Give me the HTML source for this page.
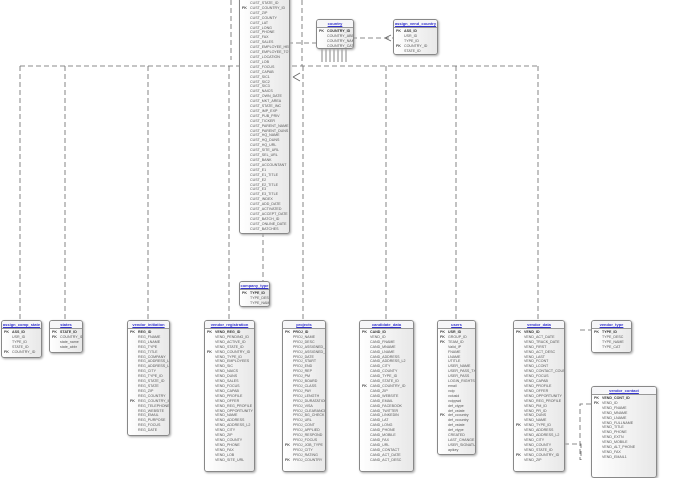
<!DOCTYPE html>
<html><head><meta charset="utf-8"><style>
body{margin:0;width:700px;height:460px;overflow:hidden;background:#fff;position:relative;font-family:"Liberation Sans",sans-serif}
svg{position:absolute;left:0;top:0}
.t{position:absolute;border:1px solid #888;border-radius:3px;background:linear-gradient(90deg,#fff,#e8e8e8);box-shadow:1px 1px 2px #aaa;font-size:3.6px;color:#555;overflow:hidden}
.h{height:7px;border-bottom:1px solid #999;text-align:center;color:#33c;font-weight:bold;line-height:7px;font-size:4px;text-decoration:underline;background:#f6f6f8}
.k{position:absolute;left:2px;top:9px;line-height:4.9px;font-weight:bold;color:#444}
.n{padding-left:10px;line-height:4.9px;padding-top:1px;white-space:nowrap}
.n b{color:#333}
</style></head><body>
<svg width="700" height="460" stroke="#666" fill="none" stroke-width="0.8">
<g stroke-dasharray="5,3">
<path d="M20 66H540"/>
<path d="M20 66V320M65 66V320M148 66V320M229 66V320M303 66V320M386 66V320M456 66V320M538 66V320"/>
<path d="M231 0V60M302 0V66M263 232V281"/>
<path d="M288 43H316M352 38H393M580 330H591M564 444H581V460M591 404H580V460"/>
</g>
<path d="M293 77L300 73M293 77L300 81M286 43h4M352 38h3M385 38l6 -3M385 38l6 3"/>
<path d="M322 48V62M326 48V62M330 48V62M334 48V62M338 48V62M342 48V62M346 48V62"/>
</svg>

<div class="t" style="left:239px;top:-9px;width:49px;height:241px"><div class="h">customer</div>
<div class="k"><br>FK</div>
<div class="n">CUST_STATE_ID<br>CUST_COUNTRY_ID<br>CUST_ZIP<br>CUST_COUNTY<br>CUST_LAT<br>CUST_LONG<br>CUST_PHONE<br>CUST_FAX<br>CUST_SALES<br>CUST_EMPLOYEE_HERE<br>CUST_EMPLOYEE_TOTAL<br>CUST_LOCATION<br>CUST_LOB<br>CUST_FOCUS<br>CUST_CAPAB<br>CUST_SIC1<br>CUST_SIC2<br>CUST_SIC3<br>CUST_NAICS<br>CUST_OWN_DATE<br>CUST_MKT_AREA<br>CUST_STATE_INC<br>CUST_IMP_EXP<br>CUST_PUB_PRIV<br>CUST_TICKER<br>CUST_PARENT_NAME<br>CUST_PARENT_DUNS<br>CUST_HQ_NAME<br>CUST_HQ_DUNS<br>CUST_HQ_URL<br>CUST_SITE_URL<br>CUST_SEL_URL<br>CUST_BANK<br>CUST_ACCOUNTANT<br>CUST_E1<br>CUST_E1_TITLE<br>CUST_E2<br>CUST_E2_TITLE<br>CUST_E3<br>CUST_E3_TITLE<br>CUST_INDEX<br>CUST_ADD_DATE<br>CUST_ACTIVATED<br>CUST_ACCEPT_DATE<br>CUST_BATCH_ID<br>CUST_ONLINE_DATE<br>CUST_BATCHES</div></div>

<div class="t" style="left:316px;top:19px;width:36px;height:28px"><div class="h">country</div><div class="k">PK</div>
<div class="n"><b>COUNTRY_ID</b><br>COUNTRY_ABBR<br>COUNTRY_NAME<br>COUNTRY_CAT</div></div>

<div class="t" style="left:393px;top:19px;width:43px;height:34px"><div class="h">assign_vend_country</div><div class="k">PK<br><br><br>FK</div>
<div class="n"><b>ASS_ID</b><br>USR_ID<br>TYPE_ID<br>COUNTRY_ID<br>STATE_ID</div></div>

<div class="t" style="left:239px;top:281px;width:29px;height:24px"><div class="h">company_type</div><div class="k">PK</div>
<div class="n"><b>TYPE_ID</b><br>TYPE_DESC<br>TYPE_NAME</div></div>

<div class="t" style="left:1px;top:320px;width:39px;height:36px"><div class="h">assign_comp_state</div><div class="k">PK<br><br><br><br>FK</div>
<div class="n"><b>ASS_ID</b><br>USR_ID<br>TYPE_ID<br>STATE_ID<br>COUNTRY_ID</div></div>

<div class="t" style="left:49px;top:320px;width:32px;height:31px"><div class="h">states</div><div class="k">PK<br>FK</div>
<div class="n"><b>STATE_ID</b><br>COUNTRY_ID<br>state_name<br>state_abbr</div></div>

<div class="t" style="left:127px;top:320px;width:41px;height:114px"><div class="h">vendor_initiation</div><div class="k">PK<br><br><br><br><br><br><br><br><br><br><br><br><br><br>FK</div>
<div class="n"><b>REG_ID</b><br>REG_FNAME<br>REG_LNAME<br>REG_TYPE<br>REG_TITLE<br>REG_COMPANY<br>REG_ADDRESS_L1<br>REG_ADDRESS_L2<br>REG_CITY<br>REG_TYPE_ID<br>REG_STATE_ID<br>REG_STATE<br>REG_ZIP<br>REG_COUNTRY<br>REG_COUNTRY_ID<br>REG_TELEPHONE<br>REG_WEBSITE<br>REG_EMAIL<br>REG_PURPOSE<br>REG_FOCUS<br>REG_DATE</div></div>

<div class="t" style="left:204px;top:320px;width:49px;height:150px"><div class="h">vendor_registration</div><div class="k">PK<br><br><br><br>FK</div>
<div class="n"><b>VEND_REG_ID</b><br>VEND_PENDING_ID<br>VEND_ACTIVE_ID<br>VEND_STATE_ID<br>VEND_COUNTRY_ID<br>VEND_TYPE_ID<br>VEND_EMPLOYEES<br>VEND_SIC<br>VEND_NAICS<br>VEND_DUNS<br>VEND_SALES<br>VEND_FOCUS<br>VEND_CAPAB<br>VEND_PROFILE<br>VEND_OFFER<br>VEND_REG_PROFILE<br>VEND_OPPORTUNITY<br>VEND_NAME<br>VEND_ADDRESS<br>VEND_ADDRESS_L2<br>VEND_CITY<br>VEND_ZIP<br>VEND_COUNTY<br>VEND_PHONE<br>VEND_FAX<br>VEND_LOB<br>VEND_SITE_URL</div></div>

<div class="t" style="left:282px;top:320px;width:42px;height:150px"><div class="h">projects</div><div class="k">PK<br><br><br><br><br><br><br><br><br><br><br><br><br><br><br><br><br><br><br><br><br><br><br>FK<br><br><br>FK</div>
<div class="n"><b>PROJ_ID</b><br>PROJ_NAME<br>PROJ_DESC<br>PROJ_ASSIGNED_TO<br>PROJ_ASSIGNED_ID<br>PROJ_DATE<br>PROJ_START<br>PROJ_END<br>PROJ_REP<br>PROJ_PM<br>PROJ_BOARD<br>PROJ_CLASS<br>PROJ_PAY<br>PROJ_LENGTH<br>PROJ_DURATATION<br>PROJ_VISA<br>PROJ_CLEARANCE<br>PROJ_BG_CHECK<br>PROJ_URL<br>PROJ_CONT<br>PROJ_APPLIED<br>PROJ_RESPOND<br>PROJ_FOCUS<br>PROJ_JOB_TYPE<br>PROJ_CITY<br>PROJ_RATING<br>PROJ_COUNTRY</div></div>

<div class="t" style="left:359px;top:320px;width:53px;height:150px"><div class="h">candidate_data</div><div class="k">PK<br><br><br><br><br><br><br><br><br><br><br>FK</div>
<div class="n"><b>CAND_ID</b><br>VEND_ID<br>CAND_FNAME<br>CAND_MNAME<br>CAND_LNAME<br>CAND_ADDRESS<br>CAND_ADDRESS_L2<br>CAND_CITY<br>CAND_COUNTY<br>CAND_TYPE_ID<br>CAND_STATE_ID<br>CAND_COUNTRY_ID<br>CAND_ZIP<br>CAND_WEBSITE<br>CAND_EMAIL<br>CAND_FACEBOOK<br>CAND_TWITTER<br>CAND_LINKEDIN<br>CAND_LAT<br>CAND_LONG<br>CAND_PHONE<br>CAND_MOBILE<br>CAND_FAX<br>CAND_URL<br>CAND_CONTACT<br>CAND_ACT_DATE<br>CAND_ACT_DESC</div></div>

<div class="t" style="left:437px;top:320px;width:37px;height:133px"><div class="h">users</div><div class="k">PK<br>FK<br>FK<br><br><br><br><br><br><br><br><br><br><br><br><br><br><br>FK</div>
<div class="n"><b>USR_ID</b><br>GROUP_ID<br>TEAM_ID<br>Valid_IP<br>FNAME<br>LNAME<br>UTITLE<br>USER_NAME<br>USER_PASS_TXT<br>USER_PASS<br>LOGIN_RIGHTS<br>email<br>voip<br>voiusid<br>voippwd<br>def_ctype<br>def_cstate<br>def_ccountry<br>def_vcountry<br>def_vstate<br>def_vtype<br>CREATED<br>LAST_CHANGE<br>USER_SIGNATURE<br>apikey</div></div>

<div class="t" style="left:513px;top:320px;width:50px;height:150px"><div class="h">vendor_data</div><div class="k">PK<br><br><br><br><br><br><br><br><br><br><br><br><br><br><br><br><br><br><br>FK<br><br><br><br><br><br>FK</div>
<div class="n"><b>VEND_ID</b><br>VEND_ACT_DATE<br>VEND_TRACK_DATE<br>VEND_FIRST<br>VEND_ACT_DESC<br>VEND_LAST<br>VEND_FCONT<br>VEND_LCONT<br>VEND_CONTACT_COUNT<br>VEND_FOCUS<br>VEND_CAPAB<br>VEND_PROFILE<br>VEND_OFFER<br>VEND_OPPORTUNITY<br>VEND_REG_PROFILE<br>VEND_PM_ID<br>VEND_PR_ID<br>VEND_DUNS<br>VEND_NAME<br>VEND_TYPE_ID<br>VEND_ADDRESS<br>VEND_ADDRESS_L2<br>VEND_CITY<br>VEND_COUNTY<br>VEND_STATE_ID<br>VEND_COUNTRY_ID<br>VEND_ZIP</div></div>

<div class="t" style="left:591px;top:320px;width:39px;height:31px"><div class="h">vendor_type</div><div class="k">PK</div>
<div class="n"><b>TYPE_ID</b><br>TYPE_DESC<br>TYPE_NAME<br>TYPE_CAT</div></div>

<div class="t" style="left:591px;top:386px;width:64px;height:90px"><div class="h">vendor_contact</div><div class="k">PK<br>FK</div>
<div class="n"><b>VEND_CONT_ID</b><br>VEND_ID<br>VEND_FNAME<br>VEND_MNAME<br>VEND_LNAME<br>VEND_FULLNAME<br>VEND_TITLE<br>VEND_PHONE<br>VEND_EXTN<br>VEND_MOBILE<br>VEND_ALT_PHONE<br>VEND_FAX<br>VEND_EMAIL1</div></div>
</body></html>
